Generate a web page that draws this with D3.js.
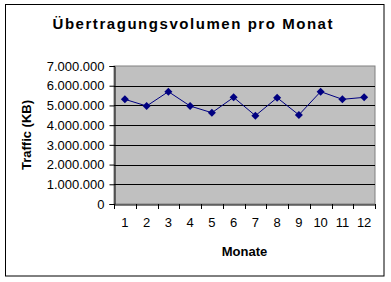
<!DOCTYPE html>
<html><head><meta charset="utf-8">
<script src="https://cdn.jsdelivr.net/npm/d3@7"></script>
<style>body{margin:0;background:#fff}svg{display:block}text{font-family:"Liberation Sans",Arial,sans-serif}</style>
</head><body>
<svg id="c" width="391" height="282"></svg>
<script>
const months = ["1","2","3","4","5","6","7","8","9","10","11","12"];
const traffic = [5310000, 4970000, 5700000, 4970000, 4630000, 5410000, 4480000, 5390000, 4520000, 5700000, 5310000, 5410000];
const yTicks = [0,1000000,2000000,3000000,4000000,5000000,6000000,7000000];
const title = "Übertragungsvolumen pro Monat";
const xTitle = "Monate";
const yTitle = "Traffic (KB)";

const svg = d3.select("#c");
const L=114, R=375, T=66, B=204;
svg.append("rect").attr("x",5.5).attr("y",4.5).attr("width",378.5).attr("height",271.5).attr("fill","#fff").attr("stroke","#000").attr("stroke-width",1);

const x = d3.scaleBand().domain(months).range([L,R]);
const y = d3.scaleLinear().domain([0,7000000]).range([B,T]);

svg.append("rect").attr("x",L).attr("y",T).attr("width",R-L).attr("height",B-T).attr("fill","#c0c0c0").attr("stroke","#808080");

// gridlines
svg.append("g").selectAll("line").data(yTicks.filter(d=>d>0&&d<7000000)).join("line")
  .attr("x1",L).attr("x2",R).attr("y1",d=>Math.round(y(d))+0.5).attr("y2",d=>Math.round(y(d))+0.5)
  .attr("stroke","#000");

const fmt = d => d3.format(",")(d).replace(/,/g,".");
const ya = svg.append("g").attr("transform",`translate(${L+0.5},0)`)
  .call(d3.axisLeft(y).tickValues(yTicks).tickFormat(fmt).tickSize(5).tickPadding(5));
ya.selectAll("text").attr("font-size",13).attr("fill","#000").attr("font-family","Liberation Sans, Arial, sans-serif");
ya.selectAll("line,path").attr("stroke","#000");

const xa = svg.append("g").attr("transform",`translate(0,${B+0.5})`)
  .call(d3.axisBottom(x).tickSize(0).tickPadding(13));
xa.select("path").attr("stroke","#000");
xa.selectAll("text").attr("font-size",13).attr("fill","#000").attr("font-family","Liberation Sans, Arial, sans-serif");
// category boundary ticks
svg.append("g").selectAll("line").data(months.map(m=>x(m)).concat([R])).join("line")
  .attr("x1",d=>Math.round(d)+0.5).attr("x2",d=>Math.round(d)+0.5).attr("y1",B).attr("y2",B+5).attr("stroke","#000");

const cx = d => x(d)+x.bandwidth()/2;
svg.append("path").datum(traffic)
  .attr("d", d3.line().x((d,i)=>cx(months[i])).y(d=>y(d)))
  .attr("fill","none").attr("stroke","#000080").attr("stroke-width",1);
svg.append("g").selectAll("path").data(traffic).join("path")
  .attr("transform",(d,i)=>`translate(${cx(months[i])},${y(d)})`)
  .attr("d","M0,-4L4,0L0,4L-4,0Z").attr("fill","#000080");

svg.append("text").attr("x",(52+333)/2).attr("y",28.5).attr("text-anchor","middle")
  .attr("font-size",15).attr("font-weight","bold").attr("textLength",280).attr("lengthAdjust","spacing").text(title);
svg.append("text").attr("x",(L+R)/2).attr("y",256).attr("text-anchor","middle")
  .attr("font-size",13).attr("font-weight","bold").text(xTitle);
svg.append("text").attr("transform",`translate(31,${(T+B)/2}) rotate(-90)`).attr("text-anchor","middle")
  .attr("font-size",13).attr("font-weight","bold").text(yTitle);
</script>
</body></html>
